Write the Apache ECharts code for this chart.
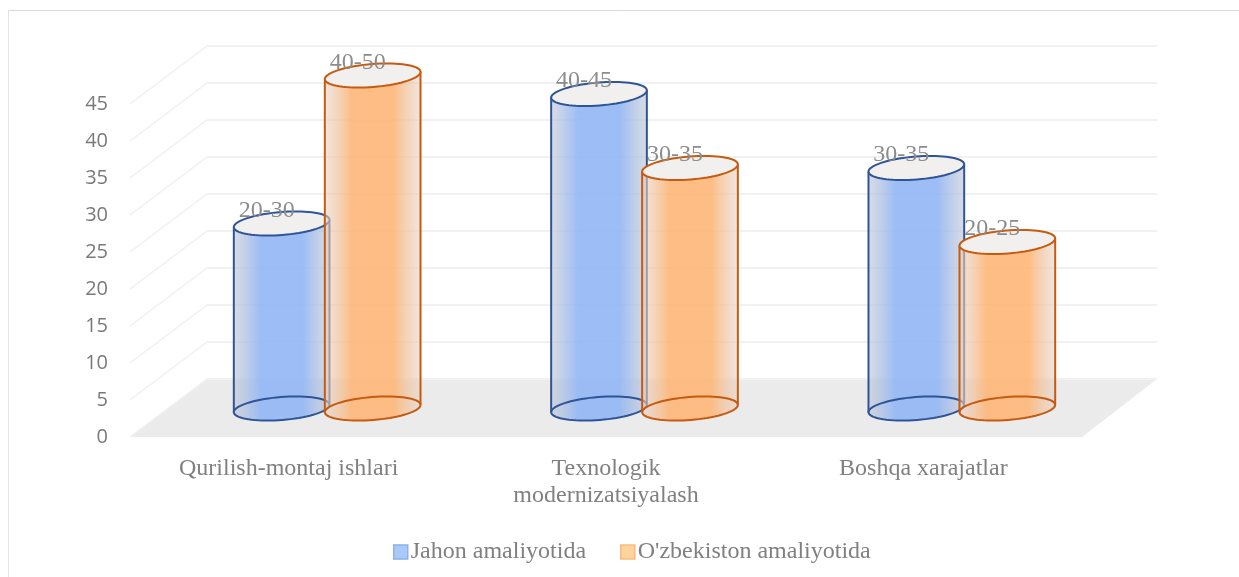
<!DOCTYPE html>
<html><head><meta charset="utf-8">
<style>html,body{margin:0;padding:0;background:#fff}#c{width:1239px;height:577px}</style>
<script src="https://cdn.jsdelivr.net/npm/echarts@6/dist/echarts.min.js"></script>
</head><body><div id="c"></div>
<script>
const categories = ['Qurilish-montaj ishlari', 'Texnologik\nmodernizatsiyalash', 'Boshqa xarajatlar'];
const jahonValues = [25, 42.5, 32.5];
const ozbekValues = [45, 32.5, 22.5];
const jahonLabels = ['20-30', '40-45', '30-35'];
const ozbekLabels = ['40-50', '30-35', '20-25'];
const yTicks = [0, 5, 10, 15, 20, 25, 30, 35, 40, 45];

const SERIF = '"Liberation Serif","Times New Roman",serif';
const DX = 77, DY = -58;
const RX = 48, RY = 11.5, TILT = 0.08;

function ellipsePts(cx, cy, from, to, n) {
  const pts = [], c = Math.cos(TILT), s = Math.sin(TILT);
  for (let i = 0; i <= n; i++) {
    const t = from + (to - from) * i / n;
    const ex = RX * Math.cos(t), ey = RY * Math.sin(t);
    pts.push([cx + ex * c + ey * s, cy - ex * s + ey * c]);
  }
  return pts;
}
function cylinder(off, stroke, mid, edge, labels) {
  return function (params, api) {
    const i = api.value(0), v = api.value(1);
    const base = api.coord([i, 0]), top = api.coord([i, v]);
    const cx = base[0] + DX / 2 + off;
    const by = base[1] + DY / 2 + 0.5, ty = top[1] + DY / 2 + 0.5;
    const botFront = ellipsePts(cx, by, Math.PI, 0, 40);
    const topFront = ellipsePts(cx, ty, 0, Math.PI, 40);
    const grad = { type: 'linear', x: 0, y: 0, x2: 1, y2: 0, colorStops: [
      { offset: 0, color: edge }, { offset: 0.28, color: mid }, { offset: 0.72, color: mid }, { offset: 1, color: edge } ] };
    const ring = (y) => ellipsePts(cx, y, 0, Math.PI * 2, 72);
    const line = { stroke, lineWidth: 2, fill: null };
    const lt = topFront[40], rt = topFront[0], lb = botFront[0], rb = botFront[40];
    return { type: 'group', children: [
      { type: 'polygon', shape: { points: botFront.concat(topFront) }, style: { fill: grad } },
      { type: 'polyline', shape: { points: ring(by) }, style: Object.assign({}, line) },
      { type: 'line', shape: { x1: lt[0], y1: lt[1], x2: lb[0], y2: lb[1] }, style: Object.assign({}, line) },
      { type: 'line', shape: { x1: rt[0], y1: rt[1], x2: rb[0], y2: rb[1] }, style: Object.assign({}, line) },
      { type: 'polygon', shape: { points: ring(ty) }, style: { fill: '#f2f0ee', stroke, lineWidth: 2 } },
      { type: 'text', x: cx - 15, y: ty - 13, style: { text: labels[i], fill: '#8c8c8c', font: '24px ' + SERIF, align: 'center', verticalAlign: 'middle' } }
    ] };
  };
}
function walls(params, api) {
  const sys = params.coordSys, v = api.value(0);
  const y = api.coord([0, v])[1], x0 = sys.x, x1 = sys.x + sys.width;
  const children = [
    { type: 'line', shape: { x1: x0, y1: y, x2: x0 + DX, y2: y + DY }, style: { stroke: '#f0f0f0', lineWidth: 1.5 } },
    { type: 'line', shape: { x1: x0 + DX, y1: y + DY, x2: x1 + DX - 2, y2: y + DY }, style: { stroke: '#f1f1f1', lineWidth: 2 } }
  ];
  if (v === 0) children.unshift({ type: 'polygon', shape: { points: [[x0, y], [x0 + DX, y + DY], [x1 + DX - 2, y + DY], [x1, y]] }, style: { fill: '#ebebeb' } });
  return { type: 'group', children };
}
const pairs = (vals) => vals.map((v, i) => [i, v]);

const chart = echarts.init(document.getElementById('c'), null, { renderer: 'canvas' });
chart.setOption({
  animation: false,
  backgroundColor: '#fff',
  graphic: [
    { type: 'line', silent: true, shape: { x1: 8, y1: 10.5, x2: 1239, y2: 10.5 }, style: { stroke: '#d9d9d9', lineWidth: 1 } },
    { type: 'line', silent: true, shape: { x1: 8.5, y1: 10, x2: 8.5, y2: 577 }, style: { stroke: '#e4e4e4', lineWidth: 1 } }
  ],
  grid: { left: 130, right: 157, top: 104, bottom: 140, containLabel: false },
  legend: {
    left: 388, top: 535, itemWidth: 14, itemHeight: 14, itemGap: 34, icon: 'rect',
    textStyle: { fontFamily: SERIF, fontSize: 24, color: '#808080', padding: [0, 0, 0, -2] },
    data: [
      { name: 'Jahon amaliyotida', itemStyle: { color: '#a9c9fb', borderColor: '#8fb0e8', borderWidth: 1.5 } },
      { name: "O'zbekiston amaliyotida", itemStyle: { color: '#fdd49c', borderColor: '#fdb97d', borderWidth: 1.5 } }
    ]
  },
  xAxis: {
    type: 'category', data: categories,
    axisLine: { show: false }, axisTick: { show: false },
    axisLabel: { fontFamily: SERIF, fontSize: 24, color: '#808080', margin: 18, lineHeight: 27, interval: 0 }
  },
  yAxis: {
    type: 'value', min: 0, max: 45, interval: 5,
    splitLine: { show: false }, axisLine: { show: false }, axisTick: { show: false },
    axisLabel: { fontFamily: '"Open Sans",sans-serif', fontSize: 20, color: '#7a7a7a', margin: 22, padding: [2, 0, 0, 0] }
  },
  series: [
    { type: 'custom', name: 'walls', coordinateSystem: 'cartesian2d', silent: true, z: 1,
      data: yTicks.map(v => [v]), encode: { y: 0 }, renderItem: walls },
    { type: 'custom', name: 'Jahon amaliyotida', coordinateSystem: 'cartesian2d', z: 2,
      itemStyle: { color: '#a9c9fb' }, data: pairs(jahonValues), encode: { x: 0, y: 1 },
      renderItem: cylinder(-45.5, '#2f5597', 'rgba(148,183,245,0.92)', 'rgba(190,196,212,0.6)', jahonLabels) },
    { type: 'custom', name: "O'zbekiston amaliyotida", coordinateSystem: 'cartesian2d', z: 3,
      itemStyle: { color: '#fdd49c' }, data: pairs(ozbekValues), encode: { x: 0, y: 1 },
      renderItem: cylinder(45.5, '#c55a11', 'rgba(253,182,120,0.9)', 'rgba(230,208,194,0.55)', ozbekLabels) }
  ]
});
</script></body></html>
